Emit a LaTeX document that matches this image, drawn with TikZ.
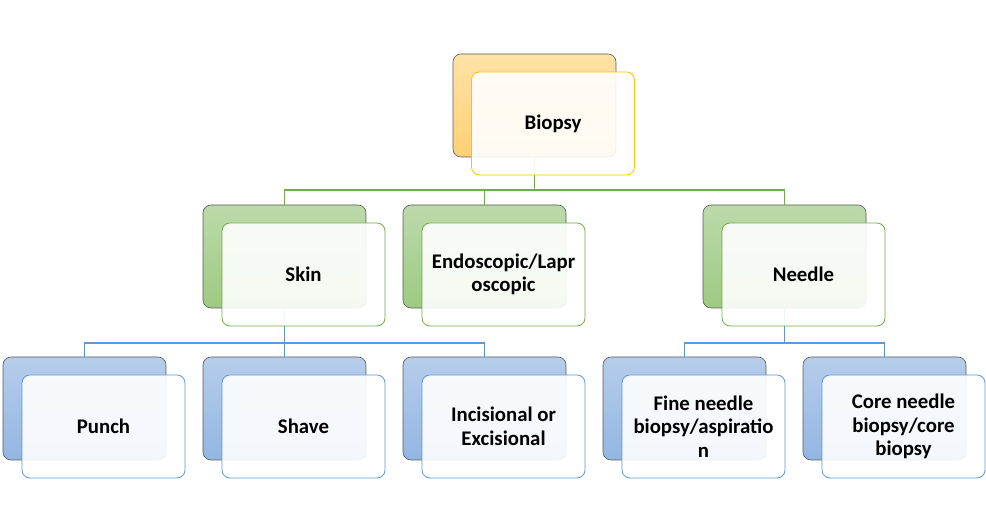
\documentclass[tikz,border=0pt]{standalone}
\usepackage{fontspec}
\setmainfont{Carlito}
\definecolor{orgtop}{HTML}{FFE2A6}
\definecolor{orgbot}{HTML}{FFD073}
\definecolor{orgline}{HTML}{FFC000}
\definecolor{grntop}{HTML}{BCDAAA}
\definecolor{grnbot}{HTML}{9DCA82}
\definecolor{grnline}{HTML}{70AD47}
\definecolor{blutop}{HTML}{B6CDEB}
\definecolor{blubot}{HTML}{93B6E2}
\definecolor{bluline}{HTML}{5B9BD5}
\tikzset{
  box/.style={rectangle, rounded corners=8pt, minimum width=163pt, minimum height=103pt, inner sep=0pt},
  backbox/.style={box, draw=black!65, line width=0.6pt},
  frontbox/.style={box, fill=white, fill opacity=0.9, text opacity=1, line width=0.8pt, align=center,
    font=\fontsize{20.8}{23.5}\selectfont\bfseries},
  orgback/.style={backbox, top color=orgtop, bottom color=orgbot},
  grnback/.style={backbox, top color=grntop, bottom color=grnbot},
  bluback/.style={backbox, top color=blutop, bottom color=blubot},
  orgfront/.style={frontbox, draw=orgline},
  grnfront/.style={frontbox, draw=grnline},
  blufront/.style={frontbox, draw=bluline},
  grnconn/.style={grnline, line width=1.6pt},
  bluconn/.style={bluline, line width=1.6pt}
}
\begin{document}
\begin{tikzpicture}[x=1pt,y=1pt]
            \useasboundingbox (0,0) rectangle (986,532);

            % back boxes
            \node[orgback] (biopsyB) at (534.5,426.5) {};
            \node[grnback] (skinB) at (284.5,275.5) {};
            \node[grnback] (endoB) at (484.5,275.5) {};
            \node[grnback] (needleB) at (784.5,275.5) {};
            \node[bluback] (punchB) at (84.5,123.5) {};
            \node[bluback] (shaveB) at (284.5,123.5) {};
            \node[bluback] (incisB) at (484.5,123.5) {};
            \node[bluback] (fineB) at (684.5,123.5) {};
            \node[bluback] (coreB) at (884.5,123.5) {};

            % connectors
            \draw[grnconn] (biopsyB.south) -- ++(0,-33) -| (skinB.north);
            \draw[grnconn] (biopsyB.south) -- ++(0,-33) -| (endoB.north);
            \draw[grnconn] (biopsyB.south) -- ++(0,-33) -| (needleB.north);
            \draw[bluconn] (skinB.south) -- ++(0,-35) -| (punchB.north);
            \draw[bluconn] (skinB.south) -- ++(0,-35) -| (shaveB.north);
            \draw[bluconn] (skinB.south) -- ++(0,-35) -| (incisB.north);
            \draw[bluconn] (needleB.south) -- ++(0,-35) -| (fineB.north);
            \draw[bluconn] (needleB.south) -- ++(0,-35) -| (coreB.north);

            % front boxes
            \node[orgfront] (biopsy) at (553,408.5) {Biopsy};
            \node[grnfront] (skin) at (303.5,257.5) {Skin};
            \node[grnfront] (endo) at (503.5,257.5) {Endoscopic/Lapr\\oscopic};
            \node[grnfront] (needle) at (803.5,257.5) {Needle};
            \node[blufront] (punch) at (103.5,105.5) {Punch};
            \node[blufront] (shave) at (303.5,105.5) {Shave};
            \node[blufront] (incis) at (503.5,105.5) {Incisional or\\Excisional};
            \node[blufront] (fine) at (703.5,105.5) {Fine needle\\biopsy/aspiratio\\n};
            \node[blufront] (core) at (903.5,105.5) {Core needle\\biopsy/core\\biopsy};
        \end{tikzpicture}
\end{document}
